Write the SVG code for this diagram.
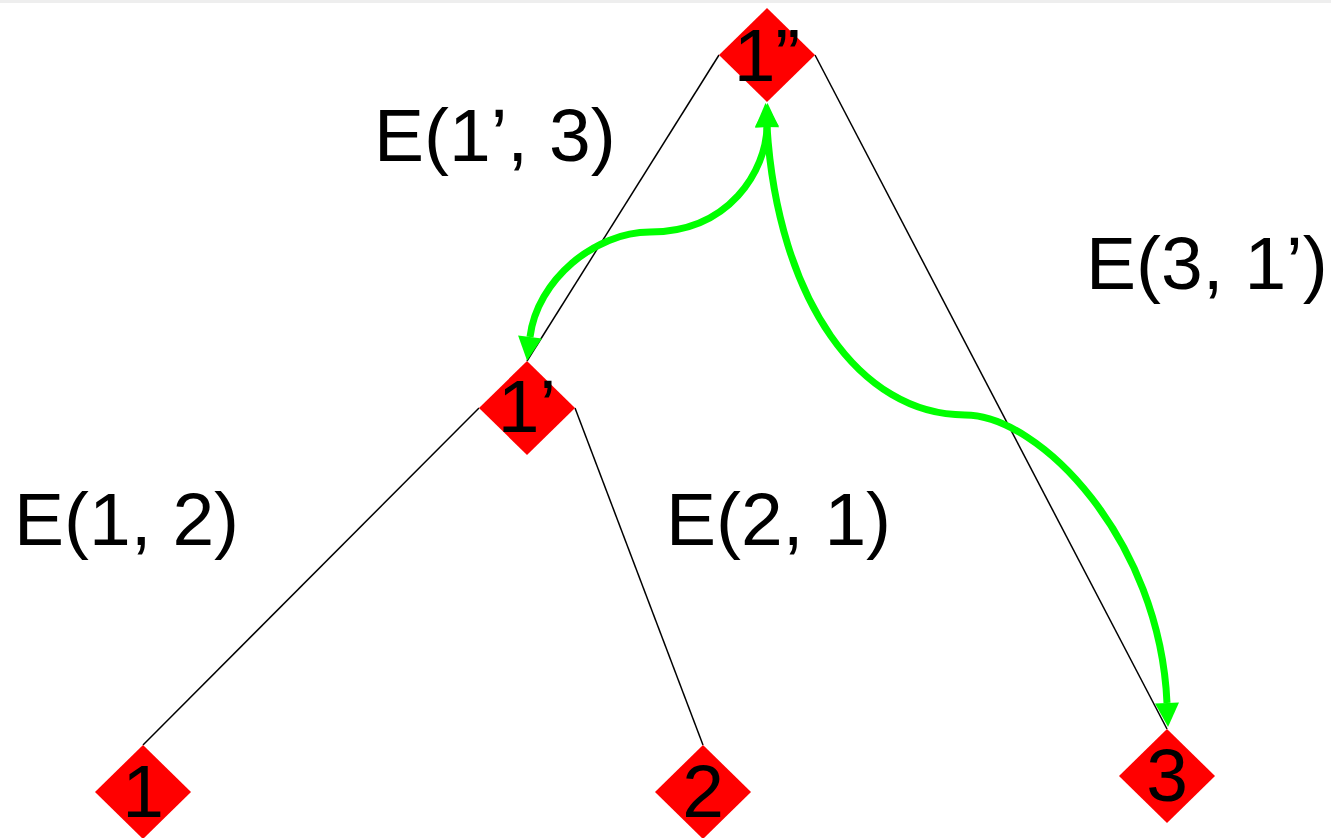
<svg xmlns="http://www.w3.org/2000/svg" width="1331" height="838" viewBox="0 0 1331 838">
<style>
.bg{fill:#ffffff}
.edge{stroke:#000000;stroke-width:1.5;fill:none}
.flow{stroke:#00ff00;stroke-width:7;fill:none}
.node{fill:#ff0000}
.nlabel{font-family:"Liberation Sans",Arial,sans-serif;font-size:75px;fill:#000000;text-anchor:middle}
.elabel{font-family:"Liberation Sans",Arial,sans-serif;font-size:75px;fill:#000000}
</style>
<defs>
<polygon id="dia" points="0,-47 48,0 0,47 -48,0"/>
<marker id="ah" markerUnits="userSpaceOnUse" markerWidth="30" markerHeight="30" viewBox="0 -15 30 30" refX="0" refY="0" orient="auto-start-reverse" overflow="visible">
<path d="M0,-12 L24,0 L0,12 z" fill="#00ff00"/>
</marker>
</defs>
<rect class="bg" x="0" y="0" width="1331" height="838"/>
<rect x="0" y="0" width="1331" height="3" fill="#eeeeee"/>
<g id="edges">
<line class="edge" x1="719" y1="55" x2="527" y2="361"/>
<line class="edge" x1="479" y1="408" x2="143" y2="745"/>
<line class="edge" x1="575" y1="408" x2="703" y2="745"/>
<line class="edge" x1="815" y1="55" x2="1167" y2="729"/>
</g>
<g id="node-1pp"><use href="#dia" class="node" x="767" y="55"/><text class="nlabel" x="767" y="81">1”</text></g>
<g id="node-1p"><use href="#dia" class="node" x="527" y="408"/><text class="nlabel" x="527" y="432">1’</text></g>
<g id="node-1"><use href="#dia" class="node" x="143" y="792"/><text class="nlabel" x="143" y="817">1</text></g>
<g id="node-2"><use href="#dia" class="node" x="703" y="792"/><text class="nlabel" x="703" y="817">2</text></g>
<g id="node-3"><use href="#dia" class="node" x="1167" y="776"/><text class="nlabel" x="1167" y="801">3</text></g>
<g id="connectors">
<path class="flow" d="M767,127 C766,170 730,232 650,232 C595,232 537,280 530,337" marker-start="url(#ah)" marker-end="url(#ah)"/>
<path class="flow" d="M767,127 C778,300 860,415 965,415 C1040,415 1160,540 1167,703" marker-start="url(#ah)" marker-end="url(#ah)"/>
</g>
<g id="labels">
<text class="elabel" x="374" y="161">E(1’, 3)</text>
<text class="elabel" x="1086" y="289">E(3, 1’)</text>
<text class="elabel" x="14" y="545">E(1, 2)</text>
<text class="elabel" x="666" y="545">E(2, 1)</text>
</g>
</svg>
